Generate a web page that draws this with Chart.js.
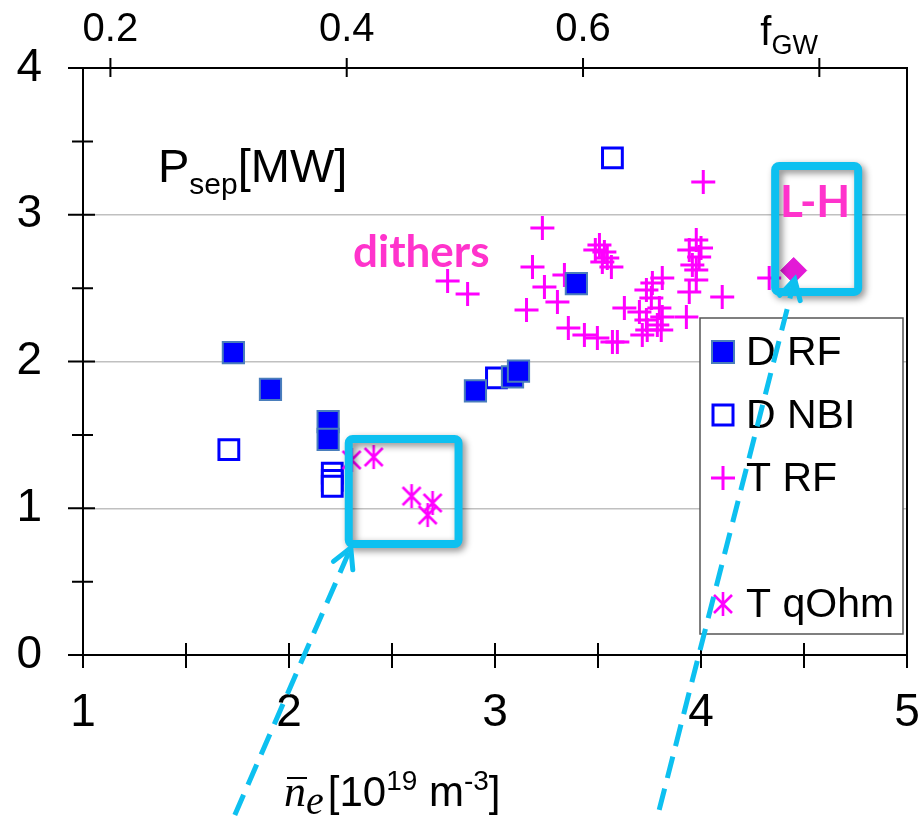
<!DOCTYPE html>
<html>
<head>
<meta charset="utf-8">
<script src="https://cdn.jsdelivr.net/npm/chart.js@4.4.1/dist/chart.umd.min.js"></script>
<style>
  html, body { margin: 0; padding: 0; background: #fff; }
  #wrap { width: 919px; height: 817px; overflow: hidden; }
</style>
</head>
<body>
<div id="wrap"><canvas id="psep_chart" width="924" height="817"></canvas></div>
<script>

// density ne [1e19 m-3] vs Psep [MW]
const dRfX = [1.73, 1.91, 2.19, 2.19, 2.905, 3.085, 3.114, 3.395];
const dRfY = [2.06, 1.81, 1.59, 1.47, 1.80, 1.895, 1.935, 2.53];

const dNbiX = [1.708, 2.21, 2.21, 2.21, 3.007, 3.57];
const dNbiY = [1.40, 1.24, 1.19, 1.15, 1.888, 3.387];

const tRfX = [2.770, 2.867, 3.230, 3.182, 3.240, 3.337, 3.303, 3.153, 3.356, 3.434,
              3.497, 3.570, 3.507, 3.531, 3.545, 3.565, 3.487, 3.521, 4.011, 3.977,
              3.943, 3.991, 3.977, 3.977, 3.958, 4.000, 3.943, 4.103, 3.812, 3.764,
              3.735, 3.759, 3.798, 3.628, 3.701, 3.812, 3.735, 3.929, 3.788, 3.807,
              3.715, 3.594, 3.739, 4.331];
const tRfY = [2.549, 2.460, 2.910, 2.644, 2.508, 2.589, 2.405, 2.351, 2.228, 2.181,
              2.160, 2.133, 2.794, 2.746, 2.705, 2.644, 2.760, 2.678, 3.223, 2.828,
              2.760, 2.712, 2.624, 2.555, 2.658, 2.773, 2.474, 2.440, 2.569, 2.535,
              2.487, 2.433, 2.365, 2.365, 2.337, 2.303, 2.283, 2.303, 2.249, 2.215,
              2.181, 2.133, 2.215, 2.569];

const tOhmX = [2.304, 2.411, 2.595, 2.697, 2.673];
const tOhmY = [1.329, 1.349, 1.083, 1.036, 0.954];

const lhX = [4.45];
const lhY = [2.62];

const xTickVals = [1, 2, 3, 4, 5];
const xMinorVals = [1.5, 2.5, 3.5, 4.5];
const yTickVals = [0, 1, 2, 3, 4];
const yMinorVals = [0.5, 1.5, 2.5, 3.5];
const fgwTickVals = [0.2, 0.4, 0.6];
const fgwMarkVals = [0.2, 0.4, 0.6, 0.8];
const fgwLabelAt = 0.8;

const legendNames = ['D RF', 'D NBI', 'T RF', '', 'T qOhm'];

// annotation boxes and arrows, in data units [x1, y1, x2, y2]
const boxes = [[2.29, 1.472, 2.823, 0.756], [4.36, 3.332, 4.763, 2.474]];
const arrows = [[1.737, -1.09, 2.30, 0.73], [3.797, -1.056, 4.455, 2.56]];

const CYAN = '#0dc0f0';
const MAGENTA = '#ff00ff';
const PINK = '#ff33cc';
const FONT = '"Liberation Sans", Arial, sans-serif';

const toPts = (xs, ys) => xs.map((x, i) => ({x: x, y: ys[i]}));

function makeAsterisk(color){
  const c = document.createElement('canvas');
  c.width = 28; c.height = 28;
  const g = c.getContext('2d');
  const m = 14;
  g.strokeStyle = color;
  g.lineWidth = 2.6;
  g.beginPath();
  g.moveTo(m, m - 12); g.lineTo(m, m + 12);
  g.moveTo(m - 9, m - 9); g.lineTo(m + 9, m + 9);
  g.moveTo(m + 9, m - 9); g.lineTo(m - 9, m + 9);
  g.stroke();
  return c;
}
const asterisk = makeAsterisk(MAGENTA);

function drawMarker(ctx, kind, x, y){
  ctx.save();
  ctx.setLineDash([]);
  if (kind == 0){
    ctx.fillStyle = '#0000ff'; ctx.strokeStyle = '#4a7ebb'; ctx.lineWidth = 2;
    ctx.fillRect(x - 11, y - 11, 22, 22); ctx.strokeRect(x - 11, y - 11, 22, 22);
  } else if (kind == 1){
    ctx.fillStyle = '#fff'; ctx.strokeStyle = '#0000ff'; ctx.lineWidth = 3;
    ctx.fillRect(x - 10, y - 10, 20, 20); ctx.strokeRect(x - 10, y - 10, 20, 20);
  } else if (kind == 2){
    ctx.strokeStyle = MAGENTA; ctx.lineWidth = 3;
    ctx.beginPath();
    ctx.moveTo(x - 12, y); ctx.lineTo(x + 12, y);
    ctx.moveTo(x, y - 12); ctx.lineTo(x, y + 12);
    ctx.stroke();
  } else if (kind == 4){
    ctx.drawImage(asterisk, x - 14, y - 14);
  }
  ctx.restore();
}

function drawArrow(ctx, x1, y1, x2, y2){
  ctx.save();
  ctx.strokeStyle = CYAN;
  ctx.lineWidth = 5;
  ctx.setLineDash([22, 11]);
  ctx.beginPath();
  ctx.moveTo(x1, y1); ctx.lineTo(x2, y2);
  ctx.stroke();
  ctx.setLineDash([]);
  const ang = Math.atan2(y2 - y1, x2 - x1);
  const len = 22, spread = 0.5;
  ctx.lineCap = 'round';
  ctx.beginPath();
  ctx.moveTo(x2 - len * Math.cos(ang - spread), y2 - len * Math.sin(ang - spread));
  ctx.lineTo(x2, y2);
  ctx.lineTo(x2 - len * Math.cos(ang + spread), y2 - len * Math.sin(ang + spread));
  ctx.stroke();
  ctx.restore();
}

function roundBox(ctx, x1, y1, x2, y2, r){
  ctx.beginPath();
  ctx.moveTo(x1 + r, y1);
  ctx.arcTo(x2, y1, x2, y2, r);
  ctx.arcTo(x2, y2, x1, y2, r);
  ctx.arcTo(x1, y2, x1, y1, r);
  ctx.arcTo(x1, y1, x2, y1, r);
  ctx.closePath();
}

const decorPlugin = {
  id: 'decor',
  afterDatasetsDraw(chart){
    const ctx = chart.ctx;
    const a = chart.chartArea;
    const xs = chart.scales.x, ys = chart.scales.y, fs = chart.scales.fgw;

    // frame
    ctx.save();
    ctx.strokeStyle = '#000';
    ctx.lineWidth = 2;
    ctx.strokeRect(a.left, a.top, a.right - a.left, a.bottom - a.top);
    ctx.beginPath();
    yTickVals.forEach(v => { const p = ys.getPixelForValue(v); ctx.moveTo(a.left - 15, p); ctx.lineTo(a.left + 12, p); });
    yMinorVals.forEach(v => { const p = ys.getPixelForValue(v); ctx.moveTo(a.left - 11, p); ctx.lineTo(a.left + 10, p); });
    xTickVals.concat(xMinorVals).forEach(v => { const p = xs.getPixelForValue(v); ctx.moveTo(p, a.bottom - 12); ctx.lineTo(p, a.bottom + 13); });
    fgwMarkVals.forEach(v => { const p = fs.getPixelForValue(v); ctx.moveTo(p, a.top - 10); ctx.lineTo(p, a.top + 9); });
    ctx.stroke();
    ctx.restore();

    // legend
    ctx.save();
    const lx = 700, ly = 318, lw = 203, lh = 316;
    ctx.fillStyle = '#fff';
    ctx.fillRect(lx, ly, lw, lh);
    ctx.strokeStyle = '#555';
    ctx.lineWidth = 1.5;
    ctx.strokeRect(lx, ly, lw, lh);
    ctx.font = '41px ' + FONT;
    ctx.fillStyle = '#000';
    ctx.textBaseline = 'middle';
    legendNames.forEach((name, i) => {
      if (!name){return;}
      const yy = ly + 34 + i * 63;
      drawMarker(ctx, i, lx + 23, yy);
      ctx.fillText(name, lx + 46, yy + 2);
    });
    ctx.restore();

    // cyan boxes
    boxes.forEach(b => {
      const x1 = xs.getPixelForValue(b[0]), y1 = ys.getPixelForValue(b[1]);
      const x2 = xs.getPixelForValue(b[2]), y2 = ys.getPixelForValue(b[3]);
      ctx.save();
      ctx.shadowColor = 'rgba(0,0,0,0.45)';
      ctx.shadowBlur = 7;
      ctx.shadowOffsetX = 3;
      ctx.shadowOffsetY = 3;
      ctx.strokeStyle = CYAN;
      ctx.lineWidth = 8;
      roundBox(ctx, x1, y1, x2, y2, 4);
      ctx.stroke();
      ctx.restore();
    });
  },
  afterDraw(chart){
    const ctx = chart.ctx;
    const a = chart.chartArea;
    const xs = chart.scales.x, ys = chart.scales.y, fs = chart.scales.fgw;

    arrows.forEach(r => {
      drawArrow(ctx, xs.getPixelForValue(r[0]), ys.getPixelForValue(r[1]),
                     xs.getPixelForValue(r[2]), ys.getPixelForValue(r[3]));
    });

    ctx.save();
    ctx.fillStyle = '#000';
    ctx.textBaseline = 'alphabetic';

    // f_GW in place of the 0.8 label
    let fx = fs.getPixelForValue(fgwLabelAt) - 59;
    ctx.font = '40px ' + FONT;
    ctx.fillText('f', fx, 45);
    fx += ctx.measureText('f').width;
    ctx.font = '27px ' + FONT;
    ctx.fillText('GW', fx, 54);

    // Psep[MW]
    let px = a.left + 75;
    ctx.font = '47px ' + FONT;
    ctx.fillText('P', px, 182);
    px += ctx.measureText('P').width;
    ctx.font = '30px ' + FONT;
    ctx.fillText('sep', px, 194);
    px += ctx.measureText('sep').width;
    ctx.font = '47px ' + FONT;
    ctx.fillText('[MW]', px, 182);

    // x axis title
    let nx = 284;
    const base = 806;
    ctx.font = 'italic 44px "Liberation Serif", serif';
    ctx.fillText('n', nx, base);
    const nw = ctx.measureText('n').width;
    ctx.lineWidth = 2;
    ctx.strokeStyle = '#000';
    ctx.beginPath();
    ctx.moveTo(nx + 3, base - 28); ctx.lineTo(nx + nw + 1, base - 28);
    ctx.stroke();
    nx += nw;
    ctx.font = 'italic 40px "Liberation Serif", serif';
    ctx.fillText('e', nx, base + 8);
    nx += ctx.measureText('e').width + 4;
    const parts = [['[10', 42, 0], ['19', 28, -16], [' m', 42, 0], ['-3', 28, -16], [']', 42, 0]];
    parts.forEach(p => {
      ctx.font = p[1] + 'px ' + FONT;
      ctx.fillText(p[0], nx, base + p[2]);
      nx += ctx.measureText(p[0]).width;
    });

    // pink annotations
    ctx.fillStyle = PINK;
    ctx.font = 'bold 44px Lato, "Open Sans", sans-serif';
    ctx.fillText('dithers', 353, 267);
    ctx.fillText('L-H', 780, 217);
    ctx.restore();
  }
};

const config = {
  type: 'scatter',
  data: {
    datasets: [
      {label: 'D RF', data: toPts(dRfX, dRfY), pointStyle: 'rect', pointRadius: 15,
       backgroundColor: '#0000ff', borderColor: '#4a7ebb', borderWidth: 2, order: 3},
      {label: 'D NBI', data: toPts(dNbiX, dNbiY), pointStyle: 'rect', pointRadius: 14,
       backgroundColor: '#ffffff', borderColor: '#0000ff', borderWidth: 3, order: 4},
      {label: 'T RF', data: toPts(tRfX, tRfY), pointStyle: 'cross', pointRadius: 12,
       backgroundColor: MAGENTA, borderColor: MAGENTA, borderWidth: 3, order: 5},
      {label: 'T qOhm', data: toPts(tOhmX, tOhmY), pointStyle: asterisk, pointRadius: 12,
       backgroundColor: MAGENTA, borderColor: MAGENTA, order: 2},
      {label: 'L-H', data: toPts(lhX, lhY), pointStyle: 'rectRot', pointRadius: 13,
       backgroundColor: '#e31ad6', borderColor: '#e31ad6', borderWidth: 1, order: 1}
    ]
  },
  options: {
    responsive: false,
    animation: false,
    devicePixelRatio: 1,
    layout: {padding: {left: 0, right: 0, top: 0, bottom: 0}},
    plugins: {legend: {display: false}, tooltip: {enabled: false}},
    font: {family: FONT},
    scales: {
      x: {
        type: 'linear', position: 'bottom', min: 1, max: 5,
        afterBuildTicks: s => { s.ticks = xTickVals.map(v => ({value: v})); },
        afterFit: s => { s.height = 162; s.paddingLeft = 0; s.paddingRight = 0; },
        grid: {display: false},
        border: {display: false},
        ticks: {color: '#000', font: {size: 46, family: FONT}, padding: 23, maxRotation: 0,
                callback: v => String(v)}
      },
      fgw: {
        type: 'linear', position: 'top', min: 0.1768, max: 0.8742,
        afterBuildTicks: s => { s.ticks = fgwTickVals.map(v => ({value: v})); },
        afterFit: s => { s.height = 68; s.paddingLeft = 0; s.paddingRight = 0; },
        grid: {display: false},
        border: {display: false},
        ticks: {color: '#000', font: {size: 40, family: FONT}, padding: 6, maxRotation: 0,
                callback: v => v.toFixed(1)}
      },
      y: {
        type: 'linear', position: 'left', min: 0, max: 4,
        afterBuildTicks: s => { s.ticks = yTickVals.map(v => ({value: v})); },
        afterFit: s => { s.width = 83; s.paddingTop = 0; s.paddingBottom = 0; },
        grid: {drawTicks: false, lineWidth: 1.5,
               color: c => (c.tick && c.tick.value > 0 && c.tick.value < 4) ? '#c0c0c0' : 'rgba(0,0,0,0)'},
        border: {display: false},
        ticks: {color: '#000', font: {size: 46, family: FONT}, padding: 41,
                callback: v => String(v)}
      }
    }
  },
  plugins: [decorPlugin]
};

const psepChart = new Chart(document.getElementById('psep_chart'), config);
</script>
</body>
</html>
